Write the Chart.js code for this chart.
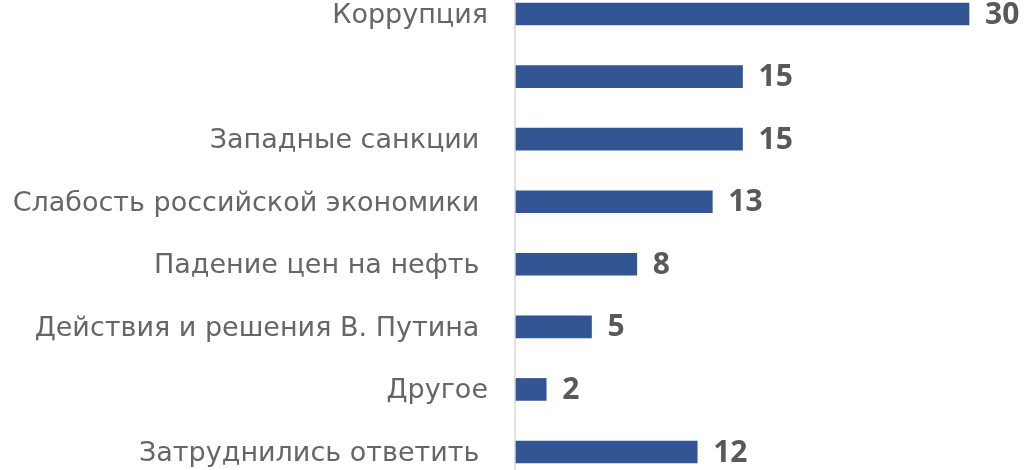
<!DOCTYPE html>
<html>
<head>
<meta charset="utf-8">
<script src="https://cdn.jsdelivr.net/npm/chart.js@4"></script>
<style>
  html, body { margin: 0; padding: 0; background: #fff; }
  #wrap { width: 1024px; height: 470px; }
</style>
</head>
<body>
<div id="wrap"><canvas id="chart"></canvas></div>
<script>
// categories (trailing spaces kept as in the source)
const categories = [
    'Коррупция',
    '',
    'Западные санкции ',
    'Слабость российской экономики ',
    'Падение цен на нефть ',
    'Действия и решения В. Путина ',
    'Другое',
    'Затруднились ответить '
];
const values = [30, 15, 15, 13, 8, 5, 2, 12];
const xMin = 0;
const xMax = 30;

const barColor = '#335593';
const textColor = '#666666';
const labelFont = '"DejaVu Sans", "Open Sans", sans-serif';
const valueFont = '"Open Sans", "Noto Sans", sans-serif';

// vertical axis line across the whole height
const axisLine = {
    id: 'axisLine',
    beforeDatasetsDraw(chart) {
        const ctx = chart.ctx;
        const x = chart.scales.x.getPixelForValue(0) - 1;
        ctx.save();
        ctx.strokeStyle = '#d9d9d9';
        ctx.lineWidth = 1.5;
        ctx.beginPath();
        ctx.moveTo(x, 0);
        ctx.lineTo(x, chart.height);
        ctx.stroke();
        ctx.restore();
    }
};

// value labels at bar ends
const valueLabels = {
    id: 'valueLabels',
    afterDatasetsDraw(chart) {
        const ctx = chart.ctx;
        const meta = chart.getDatasetMeta(0);
        ctx.save();
        ctx.font = 'bold 30px ' + valueFont;
        ctx.fillStyle = '#595959';
        ctx.textAlign = 'left';
        ctx.textBaseline = 'middle';
        meta.data.forEach((bar, i) => {
            ctx.fillText(String(values[i]), bar.x + 16, bar.y + 1);
        });
        ctx.restore();
    }
};

new Chart(document.getElementById('chart'), {
    type: 'bar',
    data: {
        labels: categories,
        datasets: [{
            data: values,
            backgroundColor: barColor,
            borderWidth: 0,
            barThickness: 22,
            clip: false
        }]
    },
    options: {
        indexAxis: 'y',
        responsive: true,
        maintainAspectRatio: false,
        animation: false,
        layout: { padding: { top: 14, bottom: 18, right: 55, left: 0 } },
        plugins: { legend: { display: false }, tooltip: { enabled: false } },
        scales: {
            x: { display: false, min: xMin, max: xMax },
            y: {
                offset: false,
                grid: { display: false, drawTicks: false },
                border: { display: false },
                ticks: {
                    color: textColor,
                    padding: 28,
                    labelOffset: 2,
                    font: { family: labelFont, size: 27 }
                },
                afterFit(scale) {
                    scale.width = 516;
                    scale.paddingTop = 0;
                    scale.paddingBottom = 0;
                }
            }
        }
    },
    plugins: [axisLine, valueLabels]
});
</script>
</body>
</html>
